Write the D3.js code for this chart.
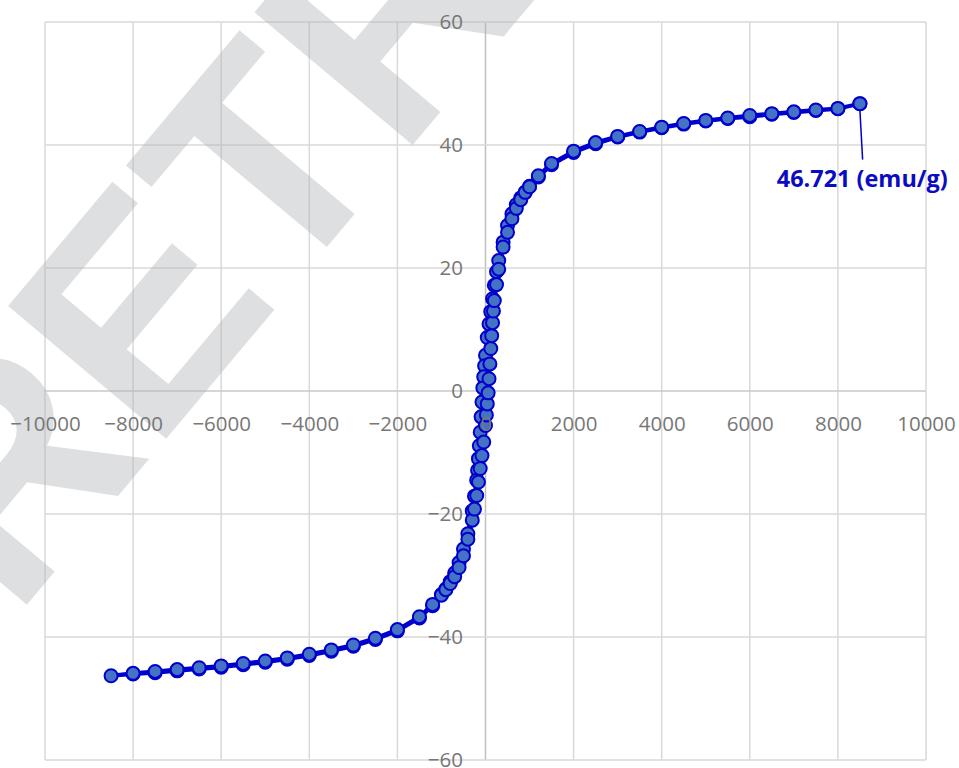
<!DOCTYPE html>
<html>
<head>
<meta charset="utf-8">
<script src="https://cdn.jsdelivr.net/npm/d3@7"></script>
<style>
  html, body { margin: 0; padding: 0; background: #ffffff; }
  svg { display: block; }
</style>
</head>
<body>
<svg id="chart" width="959" height="768"></svg>
<script>
// Magnetic field H (Oe) and magnetisation M (emu/g), descending sweep
const fieldDown = [8500, 8000, 7500, 7000, 6500, 6000, 5500, 5000, 4500, 4000, 3500, 3000, 2500, 2000,
  1500, 1200, 1000, 900, 800, 700, 600, 500, 400, 300, 250, 200, 160, 120, 80, 40, 0,
  -20, -40, -60, -80, -100, -120, -140, -160, -180, -200, -250, -300, -400, -500, -600, -700,
  -800, -900, -1000, -1200, -1500, -2000, -2500, -3000, -3500, -4000, -4500, -5000, -5500,
  -6000, -6500, -7000, -7500, -8000, -8500];
const momentDown = [46.721, 45.9, 45.6, 45.3, 45.0, 44.6, 44.3, 43.9, 43.4, 42.8, 42.1, 41.3, 40.2, 38.8,
  36.8, 34.8, 33.3, 32.3, 31.4, 30.3, 28.8, 26.9, 24.2, 21.2, 19.4, 17.2, 15.0, 12.9, 10.9, 8.7, 5.8,
  4.1, 2.3, 0.5, -1.8, -4.2, -6.7, -8.9, -11.0, -12.9, -14.5, -17.1, -19.5, -23.2, -25.7, -27.9, -29.6,
  -31.0, -32.2, -33.1, -34.9, -36.9, -39.0, -40.4, -41.5, -42.3, -43.0, -43.6, -44.1, -44.5,
  -44.9, -45.2, -45.5, -45.8, -46.0, -46.3];

// Ascending sweep back to the positive maximum
const fieldUp = [-8000, -7500, -7000, -6500, -6000, -5500, -5000, -4500, -4000, -3500, -3000, -2500, -2000,
  -1500, -1200, -1000, -900, -800, -700, -600, -500, -400, -300, -250, -200, -160, -120, -80, -40, 0,
  20, 40, 60, 80, 100, 120, 140, 160, 180, 200, 250, 300, 400, 500, 600, 700,
  800, 900, 1000, 1200, 1500, 2000, 2500, 3000, 3500, 4000, 4500, 5000, 5500,
  6000, 6500, 7000, 7500, 8000, 8500];
const momentUp = [-45.9, -45.6, -45.3, -45.0, -44.7, -44.3, -43.9, -43.4, -42.8, -42.1, -41.3, -40.2, -38.8,
  -36.7, -34.7, -33.2, -32.3, -31.3, -30.2, -28.7, -26.8, -24.1, -21.0, -19.2, -17.0, -14.8, -12.6, -10.5, -8.3, -5.6,
  -3.9, -2.1, -0.3, 2.0, 4.4, 6.9, 9.0, 11.1, 13.0, 14.7, 17.3, 19.8, 23.4, 25.8, 28.0, 29.7,
  31.1, 32.3, 33.2, 35.0, 37.0, 39.0, 40.4, 41.4, 42.2, 42.9, 43.5, 44.0, 44.4,
  44.8, 45.1, 45.4, 45.7, 45.95, 46.721];

const xTicks = [-10000, -8000, -6000, -4000, -2000, 0, 2000, 4000, 6000, 8000, 10000];
const yTicks = [-60, -40, -20, 0, 20, 40, 60];
const peakLabel = "46.721 (emu/g)";
const watermarkText = "RETRACTED";

const points = fieldDown.map((h, i) => ({ h, m: momentDown[i] }))
  .concat(fieldUp.map((h, i) => ({ h, m: momentUp[i] })));

const svg = d3.select("#chart");

const x = d3.scaleLinear().domain([-10000, 10000]).range([45, 926]);
const y = d3.scaleLinear().domain([-60, 60]).range([760, 22]);

// grid
const grid = svg.append("g");
grid.selectAll("line.v").data(xTicks).join("line")
  .attr("x1", d => x(d)).attr("x2", d => x(d))
  .attr("y1", y(60)).attr("y2", y(-60))
  .attr("stroke", d => d === 0 ? "#bfbfbf" : "#d9d9d9")
  .attr("stroke-width", 1.5);
grid.selectAll("line.h").data(yTicks).join("line")
  .attr("x1", x(-10000)).attr("x2", x(10000))
  .attr("y1", d => y(d)).attr("y2", d => y(d))
  .attr("stroke", d => d === 0 ? "#c8c8c8" : "#d9d9d9")
  .attr("stroke-width", 1.5);

// diagonal watermark
svg.append("text")
  .attr("transform", "translate(14,620) rotate(-50)")
  .attr("font-family", "'Liberation Sans', Arial, sans-serif")
  .attr("font-weight", "bold")
  .attr("font-size", 300)
  .attr("fill", "rgb(176,178,184)")
  .attr("fill-opacity", 0.42)
  .text(watermarkText);

// y axis labels (drawn beneath the data)
const yAxis = d3.axisLeft(y).tickValues(yTicks).tickSize(0).tickPadding(22.5).tickFormat(d3.format("d"));
const yg = svg.append("g").attr("transform", `translate(${x(0)},0)`).call(yAxis);
yg.select(".domain").remove();
yg.selectAll("text")
  .attr("font-family", "'Open Sans', sans-serif")
  .attr("font-size", 20.5)
  .attr("fill", "#777777");

// connecting line
const line = d3.line().x(d => x(d.h)).y(d => y(d.m));
svg.append("path")
  .datum(points)
  .attr("d", line)
  .attr("fill", "none")
  .attr("stroke", "#0000cc")
  .attr("stroke-width", 4)
  .attr("stroke-linejoin", "round");

// markers
svg.append("g").selectAll("circle").data(points).join("circle")
  .attr("cx", d => x(d.h))
  .attr("cy", d => y(d.m))
  .attr("r", 6.5)
  .attr("fill", "#4472c4")
  .attr("stroke", "#0000cc")
  .attr("stroke-width", 2);

// x axis labels
const xAxis = d3.axisBottom(x).tickValues(xTicks).tickSize(0).tickPadding(25).tickFormat(d3.format("d"));
const xg = svg.append("g").attr("transform", `translate(0,${y(0)})`).call(xAxis);
xg.select(".domain").remove();
xg.selectAll("text")
  .attr("font-family", "'Open Sans', sans-serif")
  .attr("font-size", 20.5)
  .attr("fill", "#777777");

// data label for the maximum magnetisation
const last = points[points.length - 1];
const px = x(last.h), py = y(last.m);
svg.append("line")
  .attr("x1", px).attr("y1", py + 7)
  .attr("x2", px + 2.7).attr("y2", py + 56)
  .attr("stroke", "#0000cc")
  .attr("stroke-width", 1.5);
svg.append("text")
  .attr("x", px + 2.3)
  .attr("y", py + 83.5)
  .attr("text-anchor", "middle")
  .attr("font-family", "'Open Sans', sans-serif")
  .attr("font-weight", "bold")
  .attr("font-size", 23)
  .attr("textLength", 171)
  .attr("lengthAdjust", "spacingAndGlyphs")
  .attr("fill", "#0b0bc4")
  .text(peakLabel);
</script>
</body>
</html>
